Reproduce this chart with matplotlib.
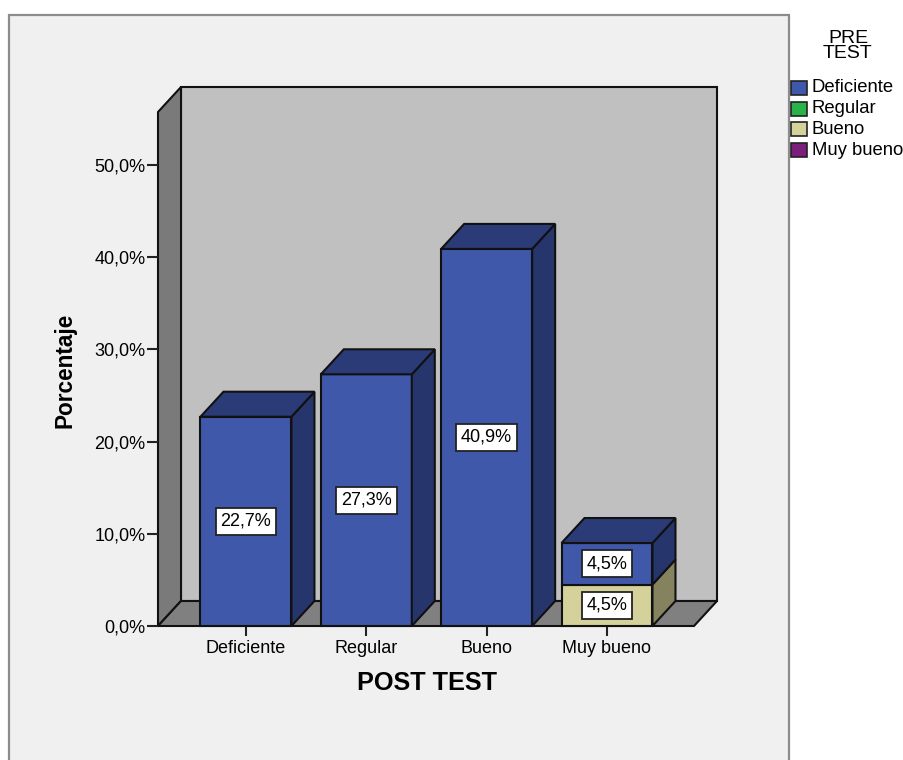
import matplotlib
matplotlib.use("Agg")
import matplotlib.pyplot as plt
import matplotlib.transforms as mtransforms
from matplotlib.patches import Polygon, Rectangle
import numpy as np

plt.rcParams['font.family'] = ['Liberation Sans', 'DejaVu Sans']

# ---- data -------------------------------------------------------------
post_levels = ["Deficiente", "Regular", "Bueno", "Muy bueno"]
pre_levels = ["Deficiente", "Regular", "Bueno", "Muy bueno"]
# percentage of cases: rows = POST TEST category, stacked by PRE TEST level
pct_deficiente = [22.7, 27.3, 40.9, 4.5]
pct_regular = [0.0, 0.0, 0.0, 0.0]
pct_bueno = [0.0, 0.0, 0.0, 4.5]
pct_muy_bueno = [0.0, 0.0, 0.0, 0.0]
y_ticks = [0, 10, 20, 30, 40, 50]
y_tick_labels = ["0,0%", "10,0%", "20,0%", "30,0%", "40,0%", "50,0%"]

# stacking order: bottom segment first
series = [pct_bueno, pct_deficiente, pct_regular, pct_muy_bueno]
series_idx = [2, 0, 1, 3]

# face colours: (front, side, top), indexed by PRE TEST level
front_cols = ["#3f58aa", "#2ab34a", "#d5d19b", "#7b1f7c"]
side_cols = ["#26356b", "#1a6b2c", "#85825f", "#4a124a"]
top_cols = ["#2b3b78", "#1e7a32", "#a9a57a", "#5a175a"]

W, H, DPI = 904, 760, 100
fig = plt.figure(figsize=(W / DPI, H / DPI), dpi=DPI, facecolor="white")
ident = mtransforms.IdentityTransform()

# light grey chart panel
panel = Rectangle((9, -5), 780, H - 15 + 5, transform=ident,
                  facecolor="#f0f0f0", edgecolor="#8c8c8c", lw=1.6, zorder=-5)
fig.patches.append(panel)
panel.set_figure(fig)

# front plane of the 3D box
x0_px, x1_px, y0_px, yt_px = 158, 694, 626, 112
ax = fig.add_axes([x0_px / W, (H - y0_px) / H, (x1_px - x0_px) / W, (y0_px - yt_px) / H])
ax.set_facecolor("none")
xmin, xmax = -0.731, 3.723
ymax = 55.75
ax.set_xlim(xmin, xmax)
ax.set_ylim(0, ymax)
for s in ax.spines.values():
    s.set_visible(False)

DX, DY = 23, 25  # depth offset in pixels


def pt(x, y, d=0):
    px, py = ax.transData.transform((x, y))
    return (px + d * DX, py + d * DY)


def face(points, color, z):
    p = Polygon(points, closed=True, facecolor=color, edgecolor="#111111",
                lw=1.5, joinstyle="miter", transform=ident, clip_on=False, zorder=z)
    ax.add_patch(p)


# walls and floor
face([pt(xmin, 0, 1), pt(xmax, 0, 1), pt(xmax, ymax, 1), pt(xmin, ymax, 1)], "#c0c0c0", 1)
face([pt(xmin, 0, 0), pt(xmin, 0, 1), pt(xmin, ymax, 1), pt(xmin, ymax, 0)], "#7a7a7a", 1.1)
face([pt(xmin, 0, 0), pt(xmax, 0, 0), pt(xmax, 0, 1), pt(xmin, 0, 1)], "#808080", 1.1)

bw = 0.756
xs = np.arange(len(post_levels))
for i, xc in enumerate(xs):
    base = 0.0
    segs = [(series_idx[k], series[k][i]) for k in range(len(series)) if series[k][i] > 0]
    for j, (k, v) in enumerate(segs):
        z = 2 + i * 0.1 + j * 0.01
        l, r, b, t = xc - bw / 2, xc + bw / 2, base, base + v
        face([pt(l, b), pt(r, b), pt(r, t), pt(l, t)], front_cols[k], z)
        face([pt(r, b), pt(r, b, 1), pt(r, t, 1), pt(r, t)], side_cols[k], z)
        if j == len(segs) - 1:
            face([pt(l, t), pt(r, t), pt(r, t, 1), pt(l, t, 1)], top_cols[k], z)
        lab = f"{v:.1f}%".replace(".", ",")
        ax.text(xc, b + v / 2, lab, ha="center", va="center", fontsize=13,
                zorder=z + 0.005,
                bbox=dict(boxstyle="square,pad=0.28", facecolor="white",
                          edgecolor="#222222", lw=1.3))
        base = t

# ticks
ax.set_yticks(y_ticks)
ax.set_yticklabels(y_tick_labels)
ax.set_xticks(xs)
ax.set_xticklabels(post_levels)
ax.tick_params(axis="y", direction="out", length=8, width=1.5, color="#222222",
               labelsize=13, pad=1)
ax.tick_params(axis="x", direction="out", length=7, width=1.5, color="#222222",
               labelsize=13, pad=3)

fig.text(65 / W, 1 - 370 / H, "Porcentaje", rotation=90, ha="center", va="center",
         fontsize=16.3, fontweight="bold")
fig.text(427 / W, 1 - 683 / H, "POST TEST", ha="center", va="center",
         fontsize=18.2, fontweight="bold")

# legend
fig.text(848 / W, 1 - 46 / H, "PRE\nTEST", ha="center", va="center",
         fontsize=14, linespacing=0.92)
for i, (name, col) in enumerate(zip(pre_levels, front_cols)):
    yc = 88 + i * 20.7
    sw = Rectangle((791, H - yc - 7), 16, 14, transform=ident, facecolor=col,
                   edgecolor="#222222", lw=1.2, zorder=3)
    fig.patches.append(sw)
    sw.set_figure(fig)
    fig.text(812 / W, 1 - yc / H, name, ha="left", va="center", fontsize=13.3)

fig.savefig("out.png", dpi=DPI, facecolor="white")
